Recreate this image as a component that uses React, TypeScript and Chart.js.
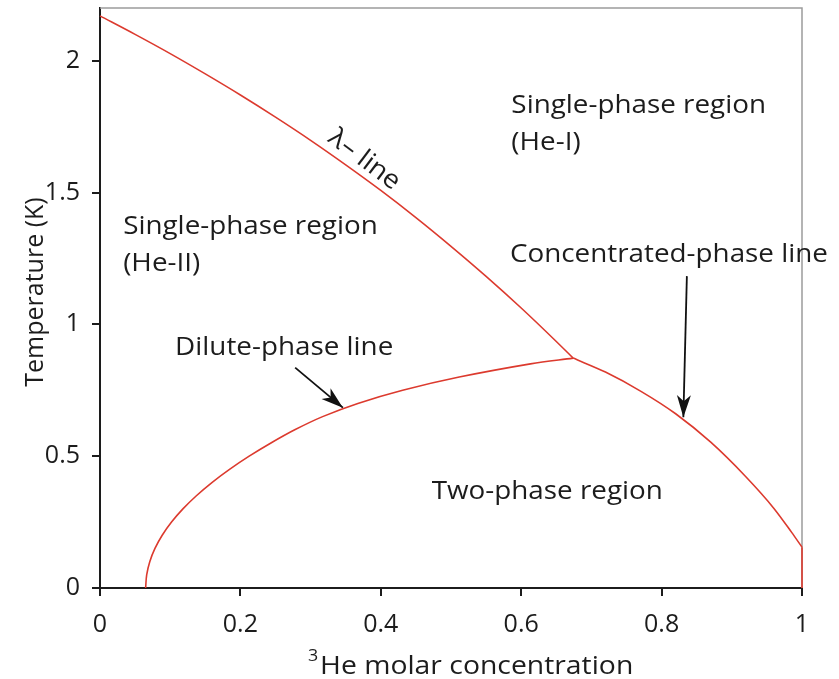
import React, { useEffect, useRef } from "react";
import { Chart, registerables } from "chart.js";

Chart.register(...registerables);

// ---- data ----
const xTicks = [0, 0.2, 0.4, 0.6, 0.8, 1];
const xTickLabels = ["0", "0.2", "0.4", "0.6", "0.8", "1"];
const yTicks = [0, 0.5, 1, 1.5, 2];
const yTickLabels = ["0", "0.5", "1", "1.5", "2"];

// lambda line
const lambdaX = [0, 0.05, 0.1, 0.15, 0.2, 0.25, 0.3, 0.35, 0.4, 0.45, 0.5, 0.55, 0.6, 0.65, 0.674];
const lambdaT = [2.17, 2.1, 2.027, 1.95, 1.87, 1.786, 1.698, 1.605, 1.508, 1.405, 1.296, 1.182, 1.062, 0.935, 0.872];

// dilute-phase line
const diluteX = [0.065, 0.0665, 0.0709, 0.0783, 0.0886, 0.1019, 0.1181, 0.1373, 0.1594, 0.1845, 0.2125, 0.2435, 0.2774, 0.3171, 0.3673, 0.4311, 0.5117, 0.6132, 0.674];
const diluteT = [0, 0.05, 0.1, 0.15, 0.2, 0.25, 0.3, 0.35, 0.4, 0.45, 0.5, 0.55, 0.6, 0.65, 0.7, 0.75, 0.8, 0.85, 0.872];

// concentrated-phase line
const concX = [0.674, 0.72, 0.77, 0.82, 0.87, 0.92, 0.96, 0.985, 1.0];
const concT = [0.872, 0.819, 0.747, 0.661, 0.553, 0.422, 0.302, 0.212, 0.155];
const pureX = [1.0, 1.0];
const pureT = [0.155, 0];

// arrows
const arrowFromX = [0.278, 0.836];
const arrowFromT = [0.836, 1.183];
const arrowToX = [0.346, 0.831];
const arrowToT = [0.684, 0.648];

// labels
const labelLines = [
  ["Single-phase region", "(He-I)"],
  ["Single-phase region", "(He-II)"],
  ["Concentrated-phase line"],
  ["Dilute-phase line"],
  ["Two-phase region"],
];
const labelX = [0.586, 0.033, 0.584, 0.107, 0.4725];
const labelT = [1.8, 1.341, 1.235, 0.885, 0.336];

const lambdaLabel = "λ– line";
const lambdaLabelX = 0.323;
const lambdaLabelT = 1.696;

const xTitleSup = "3";
const xTitle = "He molar concentration";
const yTitle = "Temperature (K)";

// ---- styles ----
const RED = "#dc3a2e";
const INK = "#1c1c1c";
const FONT = "'Open Sans', sans-serif";
const TEXT_SIZE = 26;
const TEXT_SX = 1.07;
const LINE_GAP = 37;

function drawText(ctx: CanvasRenderingContext2D, text: string, px: number, py: number, size: number, sx: number) {
  ctx.save();
  ctx.translate(px, py);
  ctx.scale(sx, 1);
  ctx.font = `${size}px ${FONT}`;
  ctx.textAlign = "left";
  ctx.textBaseline = "alphabetic";
  ctx.fillStyle = INK;
  ctx.fillText(text, 0, 0);
  ctx.restore();
}

const annotPlugin = {
  id: "annot",
  beforeDatasetsDraw(chart: any) {
    const { ctx, chartArea: a } = chart;
    ctx.save();
    ctx.strokeStyle = "#9c9c9c";
    ctx.lineWidth = 1.5;
    ctx.beginPath();
    ctx.moveTo(a.left, a.top);
    ctx.lineTo(a.right, a.top);
    ctx.lineTo(a.right, a.bottom);
    ctx.stroke();
    ctx.restore();
  },
  afterDatasetsDraw(chart: any) {
    const { ctx, chartArea: a } = chart;
    const xs = chart.scales.x;
    const ys = chart.scales.y;

    // arrowheads
    for (let i = 0; i < arrowToX.length; i++) {
      const x1 = xs.getPixelForValue(arrowFromX[i]);
      const y1 = ys.getPixelForValue(arrowFromT[i]);
      const x2 = xs.getPixelForValue(arrowToX[i]);
      const y2 = ys.getPixelForValue(arrowToT[i]);
      const ang = Math.atan2(y2 - y1, x2 - x1);
      ctx.save();
      ctx.translate(x2, y2);
      ctx.rotate(ang);
      ctx.beginPath();
      ctx.moveTo(0, 0);
      ctx.lineTo(-22, -7);
      ctx.lineTo(-16, 0);
      ctx.lineTo(-22, 7);
      ctx.closePath();
      ctx.fillStyle = "#111";
      ctx.fill();
      ctx.restore();
    }

    // region labels
    for (let i = 0; i < labelLines.length; i++) {
      const px = xs.getPixelForValue(labelX[i]);
      const py = ys.getPixelForValue(labelT[i]);
      labelLines[i].forEach((line, k) => drawText(ctx, line, px, py + k * LINE_GAP, TEXT_SIZE, TEXT_SX));
    }

    // lambda label (rotated)
    {
      const px = xs.getPixelForValue(lambdaLabelX);
      const py = ys.getPixelForValue(lambdaLabelT);
      ctx.save();
      ctx.translate(px, py);
      ctx.rotate((37 * Math.PI) / 180);
      drawText(ctx, lambdaLabel, 0, 0, TEXT_SIZE, TEXT_SX);
      ctx.restore();
    }

    // axis titles
    {
      const cy = (a.top + a.bottom) / 2 - 6;
      ctx.save();
      ctx.translate(a.left - 57, cy);
      ctx.rotate(-Math.PI / 2);
      ctx.font = `25px ${FONT}`;
      ctx.textAlign = "center";
      ctx.textBaseline = "alphabetic";
      ctx.fillStyle = INK;
      ctx.fillText(yTitle, 0, 0);
      ctx.restore();

      drawText(ctx, xTitleSup, a.left + 208, a.bottom + 73, 17, 1.05);
      drawText(ctx, xTitle, a.left + 220, a.bottom + 86, TEXT_SIZE, 1.09);
    }
  },
};

const pts = (xs: number[], ts: number[]) => xs.map((v, i) => ({ x: v, y: ts[i] }));
const seg = (i: number) => [
  { x: arrowFromX[i], y: arrowFromT[i] },
  { x: arrowToX[i], y: arrowToT[i] },
];

export default function App() {
  const ref = useRef<HTMLCanvasElement>(null);

  useEffect(() => {
    if (!ref.current) return;
    const curve = (data: any[], tension: number, mono: boolean) => ({
      data,
      borderColor: RED,
      borderWidth: 1.6,
      showLine: true,
      pointRadius: 0,
      fill: false,
      clip: false as any,
      cubicInterpolationMode: mono ? ("monotone" as const) : ("default" as const),
      tension,
    });
    const arrow = (data: any[]) => ({
      data,
      borderColor: "#111",
      borderWidth: 1.8,
      showLine: true,
      pointRadius: 0,
      fill: false,
      clip: false as any,
    });
    const tickFont = { family: FONT, size: 25 };
    const chart = new Chart(ref.current, {
      type: "scatter",
      data: {
        datasets: [
          curve(pts(lambdaX, lambdaT), 0, true),
          curve(pts(diluteX, diluteT), 0.35, false),
          curve(pts(concX, concT), 0, true),
          curve(pts(pureX, pureT), 0, false),
          arrow(seg(0)),
          arrow(seg(1)),
        ] as any,
      },
      options: {
        animation: false,
        responsive: false,
        events: [],
        layout: { padding: { top: 8, right: 37, left: 0, bottom: 0 } },
        plugins: { legend: { display: false }, tooltip: { enabled: false }, title: { display: false } },
        scales: {
          x: {
            type: "linear",
            min: 0,
            max: 1,
            afterBuildTicks: (s: any) => {
              s.ticks = xTicks.map((v) => ({ value: v }));
            },
            afterFit: (s: any) => {
              s.height = 91;
              s.paddingLeft = 0;
              s.paddingRight = 0;
            },
            ticks: {
              callback: (_v: any, i: number) => xTickLabels[i],
              font: tickFont,
              color: INK,
              padding: 14,
              maxRotation: 0,
              autoSkip: false,
            },
            grid: { drawOnChartArea: false, drawTicks: true, tickLength: 8, color: INK, lineWidth: 2 },
            border: { display: true, color: INK, width: 2 },
          },
          y: {
            type: "linear",
            min: 0,
            max: 2.2,
            afterBuildTicks: (s: any) => {
              s.ticks = yTicks.map((v) => ({ value: v }));
            },
            afterFit: (s: any) => {
              s.width = 100;
              s.paddingTop = 0;
              s.paddingBottom = 0;
            },
            ticks: {
              callback: (_v: any, i: number) => yTickLabels[i],
              font: tickFont,
              color: INK,
              padding: 12,
              autoSkip: false,
            },
            grid: { drawOnChartArea: false, drawTicks: true, tickLength: 8, color: INK, lineWidth: 2 },
            border: { display: true, color: INK, width: 2 },
          },
        },
      },
      plugins: [annotPlugin],
    });
    return () => chart.destroy();
  }, []);

  return (
    <div style={{ position: "absolute", left: 0, top: 0, width: 839, height: 679, background: "#fff" }}>
      <canvas ref={ref} width={839} height={679} style={{ display: "block" }} />
    </div>
  );
}
